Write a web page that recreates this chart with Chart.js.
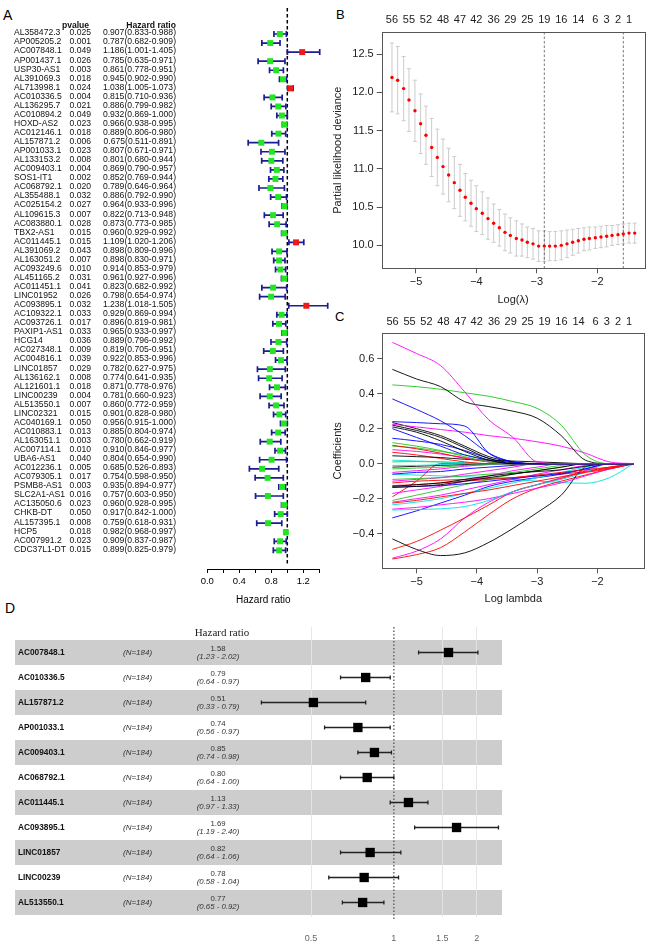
<!DOCTYPE html>
<html><head><meta charset="utf-8">
<script src="https://cdn.jsdelivr.net/npm/chart.js@4.4.1/dist/chart.umd.min.js"></script>
<style>
html,body{margin:0;padding:0;background:#fff;}
body{width:668px;height:950px;position:relative;overflow:hidden;font-family:'Liberation Sans',Arial,sans-serif;}
canvas{position:absolute;}
.lbl{position:absolute;color:#000;line-height:16px;}
</style></head><body>
<div class="lbl" style="left:3px;top:7px;font-size:14px">A</div>
<div class="lbl" style="left:336px;top:7px;font-size:13px">B</div>
<div class="lbl" style="left:335px;top:309px;font-size:13px">C</div>
<div class="lbl" style="left:5px;top:600px;font-size:14px">D</div>
<canvas id="cA" width="330" height="615" style="left:0;top:0;width:330px;height:615px"></canvas>
<canvas id="cB" width="348" height="310" style="left:320px;top:0;width:348px;height:310px"></canvas>
<canvas id="cC" width="348" height="305" style="left:320px;top:305px;width:348px;height:305px"></canvas>
<canvas id="cD" width="668" height="335" style="left:0;top:615px;width:668px;height:335px"></canvas>
<script>
// ---------- Panel A data ----------
const genesA = ['AL358472.3','AP005205.2','AC007848.1','AP001437.1','USP30-AS1','AL391069.3','AL713998.1','AC010336.5','AL136295.7','AC010894.2','HOXD-AS2','AC012146.1','AL157871.2','AP001033.1','AL133153.2','AC009403.1','SOS1-IT1','AC068792.1','AL355488.1','AC025154.2','AL109615.3','AC083880.1','TBX2-AS1','AC011445.1','AL391069.2','AL163051.2','AC093249.6','AL451165.2','AC011451.1','LINC01952','AC093895.1','AC109322.1','AC093726.1','PAXIP1-AS1','HCG14','AC027348.1','AC004816.1','LINC01857','AL136162.1','AL121601.1','LINC00239','AL513550.1','LINC02321','AC040169.1','AC010883.1','AL163051.1','AC007114.1','UBA6-AS1','AC012236.1','AC079305.1','PSMB8-AS1','SLC2A1-AS1','AC135050.6','CHKB-DT','AL157395.1','HCP5','AC007991.2','CDC37L1-DT'];
const pA = [0.025,0.001,0.049,0.026,0.003,0.018,0.024,0.004,0.021,0.049,0.023,0.018,0.006,0.023,0.008,0.004,0.002,0.020,0.032,0.027,0.007,0.028,0.015,0.015,0.043,0.007,0.010,0.031,0.041,0.026,0.032,0.033,0.017,0.033,0.036,0.009,0.039,0.029,0.008,0.018,0.004,0.007,0.015,0.050,0.013,0.003,0.010,0.040,0.005,0.017,0.003,0.016,0.023,0.050,0.008,0.018,0.023,0.015];
const hrA = [0.907,0.787,1.186,0.785,0.861,0.945,1.038,0.815,0.886,0.932,0.966,0.889,0.675,0.807,0.801,0.869,0.852,0.789,0.886,0.964,0.822,0.873,0.960,1.109,0.898,0.898,0.914,0.961,0.823,0.798,1.238,0.929,0.896,0.965,0.889,0.819,0.922,0.782,0.774,0.871,0.781,0.860,0.901,0.956,0.885,0.780,0.910,0.804,0.685,0.754,0.935,0.757,0.960,0.917,0.759,0.982,0.909,0.899];
const loA = [0.833,0.682,1.001,0.635,0.778,0.902,1.005,0.710,0.799,0.869,0.938,0.806,0.511,0.671,0.680,0.790,0.769,0.646,0.792,0.933,0.713,0.773,0.929,1.020,0.809,0.830,0.853,0.927,0.682,0.654,1.018,0.869,0.819,0.933,0.796,0.705,0.853,0.627,0.641,0.778,0.660,0.772,0.828,0.915,0.804,0.662,0.846,0.654,0.526,0.598,0.894,0.603,0.928,0.842,0.618,0.968,0.837,0.825];
const hiA = [0.988,0.909,1.405,0.971,0.951,0.990,1.073,0.936,0.982,1.000,0.995,0.980,0.891,0.971,0.944,0.957,0.944,0.964,0.990,0.996,0.948,0.985,0.992,1.206,0.996,0.971,0.979,0.996,0.992,0.974,1.505,0.994,0.981,0.997,0.992,0.951,0.996,0.975,0.935,0.976,0.923,0.959,0.980,1.000,0.974,0.919,0.977,0.990,0.893,0.950,0.977,0.950,0.995,1.000,0.931,0.997,0.987,0.979];
const ticksA = [0,0.2,0.4,0.6,0.8,1.0,1.2,1.4];

// ---------- Panel B data (cross-validation) ----------
const logLambda = [-5.397,-5.303,-5.204,-5.116,-5.017,-4.923,-4.835,-4.741,-4.647,-4.553,-4.460,-4.366,-4.272,-4.184,-4.090,-4.002,-3.903,-3.809,-3.715,-3.621,-3.528,-3.439,-3.340,-3.246,-3.158,-3.064,-2.971,-2.877,-2.789,-2.695,-2.596,-2.502,-2.408,-2.314,-2.221,-2.132,-2.033,-1.939,-1.846,-1.757,-1.658,-1.570,-1.476,-1.382];
const cvm = [12.195,12.16,12.05,11.90,11.76,11.59,11.44,11.28,11.15,11.03,10.92,10.82,10.72,10.63,10.55,10.48,10.42,10.35,10.29,10.23,10.17,10.13,10.09,10.07,10.04,10.02,9.99,9.99,9.99,9.99,10.00,10.02,10.04,10.06,10.08,10.09,10.10,10.11,10.12,10.13,10.14,10.15,10.16,10.16];
const cvsd = [0.45,0.44,0.42,0.41,0.40,0.39,0.38,0.38,0.37,0.36,0.35,0.34,0.34,0.31,0.30,0.30,0.28,0.27,0.25,0.24,0.24,0.23,0.23,0.21,0.20,0.20,0.20,0.20,0.19,0.19,0.19,0.18,0.17,0.16,0.15,0.15,0.14,0.14,0.14,0.13,0.13,0.13,0.13,0.13];
const lambdaMin = -2.877, lambda1se = -1.570;
const topPos = [-5.397,-5.116,-4.835,-4.553,-4.272,-4.002,-3.715,-3.439,-3.158,-2.877,-2.596,-2.314,-2.033,-1.846,-1.658,-1.476];
const topLbl = ['56','55','52','48','47','42','36','29','25','19','16','14','6','3','2','1'];
const ticksBy = [10.0,10.5,11.0,11.5,12.0,12.5];
const ticksX = [-5,-4,-3,-2];

// ---------- Panel C data (coefficient paths) ----------
const pathX = [-5.40,-5.00,-4.60,-4.20,-3.80,-3.40,-3.00,-2.60,-2.20,-1.80,-1.40];
const K='#000000', R='#ff0000', G='#1ec81e', B='#0000ff', C='#00e0e0', M='#ff00ff';
const pathColors = [M,K,G,B,B,M,K,K,K,B,B,G,R,G,M,K,R,C,G,C,K,G,M,B,G,M,K,K,R,B,M,R,G,M,R,C,C,M,B,K,R,M,R,C,R];
const pathVals = [
 [0.693,0.63,0.56,0.41,0.25,0.15,0.01,0,0,0,0],
 [0.539,0.484,0.44,0.354,0.326,0.30,0.26,0.16,0.02,0,0],
 [0.45,0.44,0.425,0.405,0.385,0.355,0.316,0.22,0.05,0,0],
 [0.37,0.31,0.245,0.16,0.06,0.01,0,0,0,0,0],
 [0.24,0.235,0.228,0.215,0.06,0.01,0,0,0,0,0],
 [0.225,0.21,0.195,0.18,0.16,0.145,0.125,0.10,0.06,0.01,0],
 [0.22,0.19,0.15,0.09,0.03,0.005,0,0,0,0,0],
 [0.21,0.18,0.13,0.07,0.02,0,0,0,0,0,0],
 [0.235,0.20,0.16,0.10,0.04,0.01,0,0,0,0,0],
 [0.20,0.15,0.10,0.05,0.02,0,0,0,0,0,0],
 [0.145,0.13,0.11,0.075,0.03,0,0,0,0,0,0],
 [0.12,0.10,0.075,0.04,0.01,0,0,0,0,0,0],
 [0.105,0.085,0.06,0.03,0.01,0,0,0,0,0,0],
 [0.10,0.09,0.07,0.05,0.02,0,0,0,0,0,0],
 [0.08,0.07,0.055,0.035,0.01,0,0,0,0,0,0],
 [0.045,0.04,0.035,0.025,0.02,0.015,0.01,0.005,0,0,0],
 [0.065,0.05,0.03,0.01,0,0,0,0,0,0,0],
 [0.02,0.015,0.01,0.005,0,0,0,0,0,0,0],
 [0.01,0.012,0.01,0.005,0,0,0,0,0,0,0],
 [-0.01,-0.01,-0.005,0,0,0,0,0,0,0,0],
 [-0.02,-0.015,-0.01,-0.005,0,0,0,0,0,0,0],
 [-0.03,-0.025,-0.02,-0.01,-0.005,0,0,0,0,0,0],
 [-0.05,-0.04,-0.03,-0.015,-0.005,0,0,0,0,0,0],
 [-0.06,-0.05,-0.045,-0.03,-0.02,-0.01,0,0,0,0,0],
 [-0.09,-0.085,-0.08,-0.07,-0.06,-0.05,-0.03,-0.01,0,0,0],
 [-0.10,-0.09,-0.08,-0.06,-0.04,-0.02,0,0,0,0,0],
 [-0.13,-0.12,-0.11,-0.09,-0.07,-0.055,-0.045,-0.035,-0.015,0,0],
 [-0.135,-0.13,-0.12,-0.10,-0.08,-0.06,-0.04,-0.02,0,0,0],
 [-0.125,-0.12,-0.11,-0.10,-0.09,-0.08,-0.065,-0.05,-0.035,-0.02,0],
 [-0.135,-0.13,-0.125,-0.115,-0.10,-0.085,-0.07,-0.055,-0.03,0,0],
 [-0.17,-0.15,-0.13,-0.10,-0.07,-0.04,-0.02,0,0,0,0],
 [-0.19,-0.10,0,0,0,0,0,0,0,0,0],
 [-0.21,-0.18,-0.15,-0.12,-0.09,-0.06,-0.04,-0.02,0,0,0],
 [-0.22,-0.20,-0.18,-0.15,-0.12,-0.09,-0.06,-0.035,-0.01,0,0],
 [-0.225,-0.21,-0.19,-0.17,-0.15,-0.125,-0.10,-0.075,-0.05,-0.03,0],
 [-0.235,-0.22,-0.20,-0.17,-0.14,-0.11,-0.08,-0.05,-0.02,0,0],
 [-0.265,-0.262,-0.258,-0.245,-0.21,-0.16,-0.12,-0.09,-0.05,0,0],
 [-0.26,-0.25,-0.235,-0.22,-0.20,-0.17,-0.14,-0.11,-0.07,-0.03,0],
 [-0.31,-0.27,-0.225,-0.18,-0.13,-0.10,-0.08,-0.06,-0.03,0,0],
 [-0.43,-0.49,-0.525,-0.51,-0.45,-0.37,-0.28,-0.18,-0.02,0,0],
 [-0.49,-0.445,-0.38,-0.31,-0.236,-0.16,-0.12,-0.085,-0.046,-0.02,0],
 [-0.54,-0.50,-0.43,-0.31,-0.22,-0.16,-0.12,-0.08,-0.04,0,0],
 [-0.545,-0.52,-0.48,-0.39,-0.29,-0.20,-0.14,-0.10,-0.065,-0.03,0],
 [-0.06,-0.065,-0.07,-0.075,-0.08,-0.09,-0.10,-0.108,-0.112,-0.08,0],
 [-0.11,-0.10,-0.095,-0.09,-0.085,-0.08,-0.07,-0.06,-0.045,-0.025,0]
];
const ticksCy = [-0.4,-0.2,0.0,0.2,0.4,0.6];

// ---------- Panel D data (multivariate Cox) ----------
const genesD = ['AC007848.1','AC010336.5','AL157871.2','AP001033.1','AC009403.1','AC068792.1','AC011445.1','AC093895.1','LINC01857','LINC00239','AL513550.1'];
const nD = [184,184,184,184,184,184,184,184,184,184,184];
const hrD = [1.58,0.79,0.51,0.74,0.85,0.80,1.13,1.69,0.82,0.78,0.77];
const loD = [1.23,0.64,0.33,0.56,0.74,0.64,0.97,1.19,0.64,0.58,0.65];
const hiD = [2.02,0.97,0.79,0.97,0.98,1.00,1.33,2.40,1.06,1.04,0.92];
const ticksD = [0.5,1,1.5,2];

// ---------- helpers ----------
const FONT = "'Liberation Sans', Arial, Helvetica, sans-serif";
Chart.defaults.font.family = FONT;
Chart.defaults.color = '#000';
const minus = v => (v < 0 ? '\u2212' + Math.abs(v) : String(v));
const minusF = (v,d) => (v < 0 ? '\u2212' + Math.abs(v).toFixed(d) : v.toFixed(d));
const fixTicks = arr => (s => { s.ticks = arr.map(v => ({value: v})); });
const base = {responsive:false, animation:false, events:[], plugins:{legend:{display:false}, tooltip:{enabled:false}}};

// ================= Panel A =================
const plugA = {
  id:'plugA',
  beforeDatasetsDraw(chart){
    const ctx = chart.ctx, xs = chart.scales.x, ys = chart.scales.y, ca = chart.chartArea;
    ctx.save();
    // reference line at HR = 1
    ctx.strokeStyle = '#000'; ctx.lineWidth = 1.5; ctx.setLineDash([3.5,2.5]);
    const x1 = xs.getPixelForValue(1);
    ctx.beginPath(); ctx.moveTo(x1, ca.top); ctx.lineTo(x1, ca.bottom - 4); ctx.stroke();
    ctx.setLineDash([]);
    // CI whiskers
    ctx.strokeStyle = '#1c1c90'; ctx.lineWidth = 1.7;
    hrA.forEach((v,i) => {
      const y = ys.getPixelForValue(i), a = xs.getPixelForValue(loA[i]), b = xs.getPixelForValue(hiA[i]);
      ctx.beginPath();
      ctx.moveTo(a,y); ctx.lineTo(b,y);
      ctx.moveTo(a,y-3); ctx.lineTo(a,y+3);
      ctx.moveTo(b,y-3); ctx.lineTo(b,y+3);
      ctx.stroke();
    });
    ctx.restore();
  },
  afterDraw(chart){
    const ctx = chart.ctx, ys = chart.scales.y;
    ctx.save(); ctx.fillStyle = '#111'; ctx.textBaseline = 'middle';
    ctx.font = 'bold 8.6px ' + FONT;
    ctx.textAlign = 'center'; ctx.fillText('pvalue', 75.5, 25.5);
    ctx.textAlign = 'right'; ctx.fillText('Hazard ratio', 176, 25.5);
    ctx.font = '8.6px ' + FONT;
    genesA.forEach((g,i) => {
      const y = ys.getPixelForValue(i) - 1;
      ctx.textAlign = 'left';
      ctx.fillText(g, 14, y);
      ctx.fillText(pA[i].toFixed(3), 69.5, y);
      ctx.textAlign = 'right';
      ctx.fillText(hrA[i].toFixed(3) + '(' + loA[i].toFixed(3) + '-' + hiA[i].toFixed(3) + ')', 176, y);
    });
    ctx.restore();
  }
};
new Chart(document.getElementById('cA'), {
  type:'scatter',
  data:{datasets:[{
    data: hrA.map((v,i) => ({x:v, y:i})),
    pointStyle:'rect', pointRadius:4.2, borderWidth:0,
    backgroundColor: hrA.map(v => v > 1 ? '#f01818' : '#22e622')
  }]},
  options:Object.assign({}, base, {
    clip:false,
    layout:{padding:{left:207.3, right:10.7, top:8, bottom:0}},
    scales:{
      x:{type:'linear', min:0, max:1.4, position:'bottom',
         afterFit:s => { s.height = 46; }, afterBuildTicks: fixTicks(ticksA),
         border:{display:true, color:'#000', width:1},
         grid:{drawOnChartArea:false, drawTicks:true, tickLength:4, color:'#000'},
         ticks:{autoSkip:false, maxRotation:0, padding:3, color:'#000', font:{size:9.5},
                callback:v => (Math.round(v*10) % 4 === 0 ? v.toFixed(1) : '')},
         title:{display:true, text:'Hazard ratio', color:'#000', font:{size:10}, padding:{top:0, bottom:9}}},
      y:{type:'linear', display:false, reverse:true, min:-2.87, max:59.06}
    }
  }),
  plugins:[plugA]
});

// ================= Panel B =================
const boxPlug = {
  id:'boxPlug',
  afterDatasetsDraw(chart){
    const ctx = chart.ctx, ca = chart.chartArea;
    ctx.save(); ctx.strokeStyle = '#555'; ctx.lineWidth = 1;
    ctx.strokeRect(Math.round(ca.left)+0.5, Math.round(ca.top)+0.5, Math.round(ca.right-ca.left), Math.round(ca.bottom-ca.top));
    ctx.restore();
  }
};
const plugB = {
  id:'plugB',
  beforeDatasetsDraw(chart){
    const ctx = chart.ctx, xs = chart.scales.x, ys = chart.scales.y, ca = chart.chartArea;
    ctx.save();
    ctx.strokeStyle = '#cbcbcb'; ctx.lineWidth = 1;
    logLambda.forEach((x,i) => {
      const px = xs.getPixelForValue(x), t = ys.getPixelForValue(cvm[i]+cvsd[i]), b = ys.getPixelForValue(cvm[i]-cvsd[i]);
      ctx.beginPath();
      ctx.moveTo(px,t); ctx.lineTo(px,b);
      ctx.moveTo(px-2,t); ctx.lineTo(px+2,t);
      ctx.moveTo(px-2,b); ctx.lineTo(px+2,b);
      ctx.stroke();
    });
    ctx.strokeStyle = '#555'; ctx.setLineDash([2.5,2]); ctx.lineWidth = 0.8;
    [lambdaMin, lambda1se].forEach(v => {
      const px = xs.getPixelForValue(v);
      ctx.beginPath(); ctx.moveTo(px, ca.top); ctx.lineTo(px, ca.bottom); ctx.stroke();
    });
    ctx.restore();
  }
};
new Chart(document.getElementById('cB'), {
  type:'scatter',
  data:{datasets:[{data: logLambda.map((x,i) => ({x:x, y:cvm[i]})), pointRadius:1.7, borderWidth:0, backgroundColor:'#ff0000'}]},
  options:Object.assign({}, base, {
    layout:{padding:{left:0, right:23.7, top:0, bottom:0}},
    scales:{
      x:{type:'linear', min:-5.567, max:-1.223, position:'bottom',
         afterFit:s => { s.height = 41.7; }, afterBuildTicks: fixTicks(ticksX),
         border:{display:false}, grid:{drawOnChartArea:false, tickLength:5, color:'#555'},
         ticks:{autoSkip:false, maxRotation:0, padding:2, color:'#222', font:{size:11}, callback:v => minus(v)},
         title:{display:true, text:'Log(\u03bb)', color:'#222', font:{size:11}, padding:{top:0, bottom:3.4}}},
      xTop:{type:'linear', min:-5.567, max:-1.223, position:'top',
         afterFit:s => { s.height = 32; }, afterBuildTicks: fixTicks(topPos),
         border:{display:false}, grid:{display:false, drawTicks:false},
         ticks:{autoSkip:false, maxRotation:0, padding:5, color:'#222', font:{size:11}, callback:(v,i) => topLbl[i]}},
      y:{type:'linear', min:9.70, max:12.79, position:'left',
         afterFit:s => { s.width = 61.7; }, afterBuildTicks: fixTicks(ticksBy),
         border:{display:false}, grid:{drawOnChartArea:false, tickLength:5, color:'#555'},
         ticks:{autoSkip:false, padding:3, color:'#222', font:{size:11}, callback:v => v.toFixed(1)},
         title:{display:true, text:'Partial likelihood deviance', color:'#222', font:{size:11}, padding:{top:11.7, bottom:0}}}
    }
  }),
  plugins:[plugB, boxPlug]
});

// ================= Panel C =================
new Chart(document.getElementById('cC'), {
  type:'line',
  data:{datasets: pathVals.map((vals,k) => ({
    data: vals.map((v,i) => ({x:pathX[i], y:v})),
    borderColor: pathColors[k], borderWidth:0.9, pointRadius:0, fill:false,
    cubicInterpolationMode:'monotone'
  }))},
  options:Object.assign({}, base, {
    layout:{padding:{left:0, right:23.7, top:0, bottom:0}},
    scales:{
      x:{type:'linear', min:-5.567, max:-1.223, position:'bottom',
         afterFit:s => { s.height = 41.7; }, afterBuildTicks: fixTicks(ticksX),
         border:{display:false}, grid:{drawOnChartArea:false, tickLength:5, color:'#555'},
         ticks:{autoSkip:false, maxRotation:0, padding:2, color:'#222', font:{size:11}, callback:v => minus(v)},
         title:{display:true, text:'Log lambda', color:'#222', font:{size:11}, padding:{top:0, bottom:4.4}}},
      xTop:{type:'linear', min:-5.567, max:-1.223, position:'top',
         afterFit:s => { s.height = 28.3; }, afterBuildTicks: fixTicks(topPos),
         border:{display:false}, grid:{display:false, drawTicks:false},
         ticks:{autoSkip:false, maxRotation:0, padding:5, color:'#222', font:{size:11}, callback:(v,i) => topLbl[i]}},
      y:{type:'linear', min:-0.598, max:0.745, position:'left',
         afterFit:s => { s.width = 62.3; }, afterBuildTicks: fixTicks(ticksCy),
         border:{display:false}, grid:{drawOnChartArea:false, tickLength:5, color:'#555'},
         ticks:{autoSkip:false, padding:3, color:'#222', font:{size:11}, callback:v => minusF(v,1)},
         title:{display:true, text:'Coefficients', color:'#222', font:{size:11}, padding:{top:11.4, bottom:0}}}
    }
  }),
  plugins:[boxPlug]
});

// ================= Panel D =================
const plugD = {
  id:'plugD',
  beforeDraw(chart){
    const ctx = chart.ctx, ys = chart.scales.y;
    ctx.save(); ctx.fillStyle = '#cdcdcd';
    genesD.forEach((g,i) => {
      if (i % 2 === 0) {
        const y = ys.getPixelForValue(i);
        ctx.fillRect(15, y - 12.5, 487, 25);
      }
    });
    ctx.restore();
  },
  beforeDatasetsDraw(chart){
    const ctx = chart.ctx, xs = chart.scales.x, ys = chart.scales.y, ca = chart.chartArea;
    ctx.save();
    const x1 = xs.getPixelForValue(1);
    ctx.strokeStyle = '#555'; ctx.lineWidth = 1.3; ctx.setLineDash([1.5,2]);
    ctx.beginPath(); ctx.moveTo(x1, ca.top); ctx.lineTo(x1, ca.bottom + 3); ctx.stroke();
    ctx.setLineDash([]);
    ctx.strokeStyle = '#222'; ctx.lineWidth = 1.3;
    hrD.forEach((v,i) => {
      const y = ys.getPixelForValue(i), a = xs.getPixelForValue(loD[i]), b = xs.getPixelForValue(hiD[i]);
      ctx.beginPath();
      ctx.moveTo(a,y); ctx.lineTo(b,y);
      ctx.moveTo(a,y-2); ctx.lineTo(a,y+2);
      ctx.moveTo(b,y-2); ctx.lineTo(b,y+2);
      ctx.stroke();
    });
    ctx.restore();
  },
  afterDraw(chart){
    const ctx = chart.ctx, ys = chart.scales.y;
    ctx.save(); ctx.fillStyle = '#222'; ctx.textBaseline = 'middle';
    ctx.font = "11px 'Liberation Serif', 'Times New Roman', serif";
    ctx.textAlign = 'center'; ctx.fillText('Hazard ratio', 222, 18);
    genesD.forEach((g,i) => {
      const y = ys.getPixelForValue(i);
      ctx.textAlign = 'left';
      ctx.font = 'bold 8.3px ' + FONT; ctx.fillStyle = '#111';
      ctx.fillText(g, 18, y);
      ctx.font = 'italic 8px ' + FONT; ctx.fillStyle = '#333';
      ctx.fillText('(N=' + nD[i] + ')', 123, y);
      ctx.textAlign = 'center';
      ctx.font = '7.8px ' + FONT;
      ctx.fillText(hrD[i].toFixed(2), 218, y - 4);
      ctx.font = 'italic 7.8px ' + FONT;
      ctx.fillText('(' + loD[i].toFixed(2) + ' - ' + hiD[i].toFixed(2) + ')', 218, y + 4);
    });
    ctx.restore();
  }
};
new Chart(document.getElementById('cD'), {
  type:'scatter',
  data:{datasets:[{data: hrD.map((v,i) => ({x:v, y:i})), pointStyle:'rect', pointRadius:6.6, borderWidth:0, backgroundColor:'#000'}]},
  options:Object.assign({}, base, {
    clip:false,
    layout:{padding:{left:250, right:166, top:12, bottom:0}},
    scales:{
      x:{type:'logarithmic', min:0.3186, max:2.472, position:'bottom',
         afterFit:s => { s.height = 33; }, afterBuildTicks: fixTicks(ticksD),
         border:{display:false},
         grid:{drawTicks:false, lineWidth:1, color:ctx => (ctx.tick && ctx.tick.value === 1 ? 'rgba(0,0,0,0)' : 'rgba(228,228,228,0.9)')},
         ticks:{autoSkip:false, maxRotation:0, padding:16, color:'#666', font:{size:9}, callback:v => String(v)}},
      y:{type:'linear', display:false, reverse:true, min:-1.02, max:10.58}
    }
  }),
  plugins:[plugD]
});
</script>
</body></html>
